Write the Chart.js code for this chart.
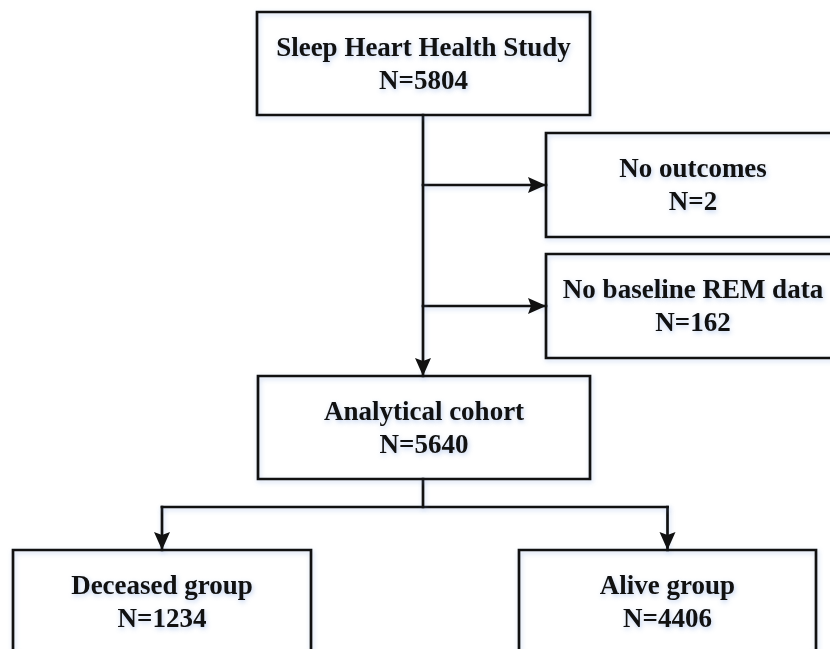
<!DOCTYPE html>
<html>
<head>
<meta charset="utf-8">
<script src="https://cdn.jsdelivr.net/npm/chart.js@4.4.0/dist/chart.umd.min.js"></script>
<style>
html, body { margin: 0; padding: 0; background: #fff; }
#wrap { width: 830px; height: 649px; }
</style>
</head>
<body>
<div id="wrap"><canvas id="flow"></canvas></div>
<script>
// Flow steps
const stepTitles = ['Sleep Heart Health Study', 'No outcomes', 'No baseline REM data', 'Analytical cohort', 'Deceased group', 'Alive group'];
const stepCounts = [5804, 2, 162, 5640, 1234, 4406];

// Where each step sits (canvas units, y grows downwards)
const layout = {
    boxes: [
        { x: 423.5, y: 63.5, w: 333, h: 103 },
        { x: 693, y: 185, w: 294, h: 104 },
        { x: 693, y: 306, w: 294, h: 104 },
        { x: 424, y: 427.5, w: 332, h: 103 },
        { x: 162, y: 602, w: 298, h: 104 },
        { x: 667.5, y: 602, w: 297, h: 104 }
    ],
    trunkX: 423,
    branchY: 507,
    titleBase: 44,
    countBase: 77
};

const ink = '#111';
const b = layout.boxes;
const boxTop = i => b[i].y - b[i].h / 2;
const boxBottom = i => b[i].y + b[i].h / 2;
const boxLeft = i => b[i].x - b[i].w / 2;
const boxRight = i => b[i].x + b[i].w / 2;

// Box outlines
const rects = b.map((_, i) => [
    { x: boxLeft(i), y: boxTop(i) }, { x: boxRight(i), y: boxTop(i) },
    { x: boxRight(i), y: boxBottom(i) }, { x: boxLeft(i), y: boxBottom(i) },
    { x: boxLeft(i), y: boxTop(i) }
]);

// Connectors, last point of an arrow path is the arrow tip
const tx = layout.trunkX;
const paths = [
    { pts: [{ x: tx, y: boxBottom(0) }, { x: tx, y: boxTop(3) }], arrow: true },
    { pts: [{ x: tx, y: b[1].y }, { x: boxLeft(1), y: b[1].y }], arrow: true },
    { pts: [{ x: tx, y: b[2].y }, { x: boxLeft(2), y: b[2].y }], arrow: true },
    { pts: [{ x: tx, y: boxBottom(3) }, { x: tx, y: layout.branchY }], arrow: false },
    { pts: [{ x: b[4].x, y: layout.branchY }, { x: b[5].x, y: layout.branchY }], arrow: false },
    { pts: [{ x: b[4].x, y: layout.branchY }, { x: b[4].x, y: boxTop(4) }], arrow: true },
    { pts: [{ x: b[5].x, y: layout.branchY }, { x: b[5].x, y: boxTop(5) }], arrow: true }
];

const lineSet = data => ({
    data: data,
    showLine: true,
    pointRadius: 0,
    borderColor: ink,
    borderWidth: 2.7,
    borderJoinStyle: 'miter',
    borderCapStyle: 'square',
    tension: 0
});

// Soft blue glow like the original export
const glowPlugin = {
    id: 'glow',
    beforeDatasetsDraw(chart) {
        const ctx = chart.ctx;
        ctx.save();
        ctx.shadowColor = 'rgba(110, 150, 220, 0.35)';
        ctx.shadowBlur = 5;
        ctx.shadowOffsetX = 1;
        ctx.shadowOffsetY = 2;
    },
    afterDatasetsDraw(chart) {
        chart.ctx.restore();
    }
};

// Arrow heads and box texts
const flowPlugin = {
    id: 'flowText',
    afterDatasetsDraw(chart) {
        const ctx = chart.ctx;
        const sx = chart.scales.x, sy = chart.scales.y;
        ctx.save();
        ctx.fillStyle = ink;
        paths.filter(p => p.arrow).forEach(p => {
            const a = p.pts[p.pts.length - 2], t = p.pts[p.pts.length - 1];
            const x1 = sx.getPixelForValue(a.x), y1 = sy.getPixelForValue(a.y);
            const x2 = sx.getPixelForValue(t.x), y2 = sy.getPixelForValue(t.y);
            const ang = Math.atan2(y2 - y1, x2 - x1);
            const cos = Math.cos(ang), sin = Math.sin(ang);
            const len = 18, half = 8, notch = 3;
            ctx.beginPath();
            ctx.moveTo(x2, y2);
            ctx.lineTo(x2 - len * cos + half * sin, y2 - len * sin - half * cos);
            ctx.lineTo(x2 - (len - notch) * cos, y2 - (len - notch) * sin);
            ctx.lineTo(x2 - len * cos - half * sin, y2 - len * sin + half * cos);
            ctx.closePath();
            ctx.fill();
        });

        ctx.shadowColor = 'rgba(110, 150, 220, 0.45)';
        ctx.shadowBlur = 5;
        ctx.shadowOffsetX = 1;
        ctx.shadowOffsetY = 2;
        ctx.font = 'bold 27px "Liberation Serif", "Times New Roman", serif';
        ctx.textAlign = 'center';
        ctx.textBaseline = 'alphabetic';
        stepTitles.forEach((title, i) => {
            const cx = sx.getPixelForValue(b[i].x);
            ctx.fillText(title, cx, sy.getPixelForValue(boxTop(i) + layout.titleBase));
            ctx.fillText('N=' + stepCounts[i], cx, sy.getPixelForValue(boxTop(i) + layout.countBase));
        });
        ctx.restore();
    }
};

new Chart(document.getElementById('flow'), {
    type: 'scatter',
    data: {
        datasets: rects.map(lineSet).concat(paths.map(p => lineSet(p.pts)))
    },
    options: {
        responsive: true,
        maintainAspectRatio: false,
        animation: false,
        events: [],
        layout: { padding: 0 },
        scales: {
            x: { type: 'linear', min: 0, max: 830, display: false },
            y: { type: 'linear', min: 0, max: 649, reverse: true, display: false }
        },
        plugins: {
            legend: { display: false },
            tooltip: { enabled: false }
        }
    },
    plugins: [glowPlugin, flowPlugin]
});
</script>
</body>
</html>
